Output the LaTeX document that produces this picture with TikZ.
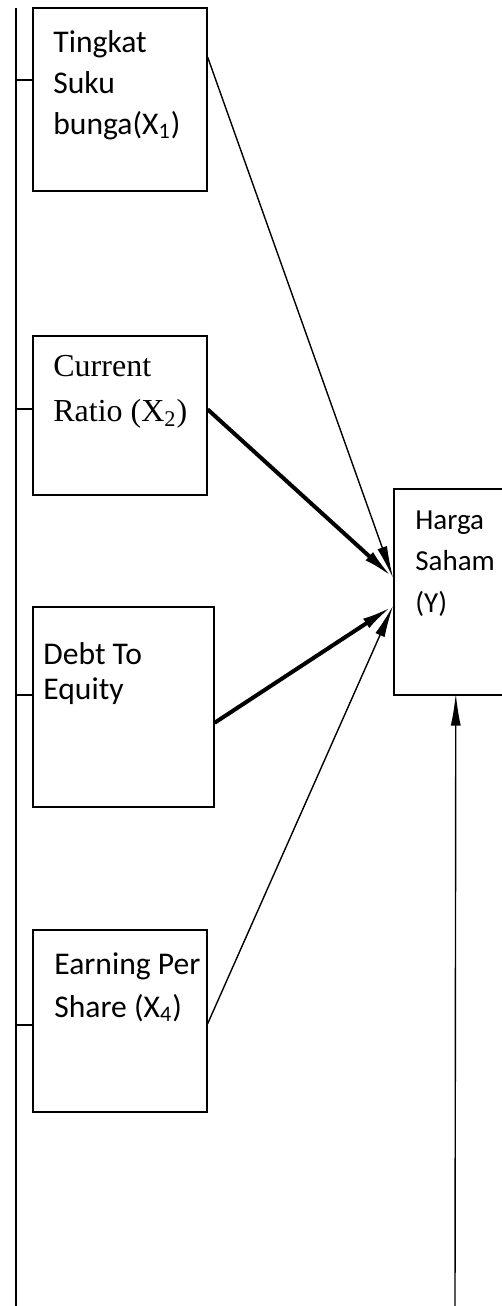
\documentclass[tikz,border=0pt]{standalone}
\usepackage{fontspec}
\setmainfont{Carlito}
\newfontfamily\timesfont{Liberation Serif}
\usepackage{tikz}
\usetikzlibrary{arrows.meta}
\usetikzlibrary{calc}

\begin{document}
\begin{tikzpicture}[x=0.5pt, y=-0.5pt,
        box_style/.style={draw=black, line width=0.8pt, rectangle, inner sep=0pt, anchor=north west},
        text_style/.style={anchor=north west, inner sep=0pt, align=left, font=\fontsize{15.8}{20.5}\selectfont},
        times_style/.style={anchor=north west, inner sep=0pt, align=left, font=\timesfont\fontsize{16}{22.5}\selectfont},
        line_style/.style={draw=black, line width=0.7pt},
        edge_style/.style={draw=black, line width=0.7pt, -{Latex[length=16pt,width=5pt]}},
        thick_edge_style/.style={draw=black, line width=2pt, -{Latex[length=16pt,width=5.5pt]}}]

        \useasboundingbox (0,0) rectangle (502,1306);

        \node [box_style, minimum width=87pt, minimum height=91.5pt] (x1) at (32,7) {};

        \node [box_style, minimum width=87pt, minimum height=79.5pt] (x2) at (32,335) {};

        \node [box_style, minimum width=90.5pt, minimum height=100pt] (x3) at (32,606) {};

        \node [box_style, minimum width=87pt, minimum height=91pt] (x4) at (32,929) {};

        \node [box_style, minimum width=62pt, minimum height=103pt] (y) at (393,488) {};

        \node [text_style] (t1) at ([xshift=10.5pt, yshift=-11.5pt]x1.north west) {Tingkat\\Suku\\bunga(X\textsubscript{1})};

        \node [times_style] (t2) at ([xshift=10.5pt, yshift=-10pt]x2.north west) {Current\\Ratio (X\textsubscript{2})};

        \node [text_style, font=\fontsize{15.8}{17.5}\selectfont] (t3) at ([xshift=5.5pt, yshift=-18pt]x3.north west) {Debt To\\Equity};

        \node [text_style, font=\fontsize{15.8}{21.5}\selectfont] (t4) at ([xshift=11pt, yshift=-11.5pt]x4.north west) {Earning Per\\Share (X\textsubscript{4})};

        \node [text_style, font=\fontsize{14.5}{20.8}\selectfont] (ty) at ([xshift=11pt, yshift=-11pt]y.north west) {Harga\\Saham\\(Y)};

        \coordinate (ltop) at (16,8);
        \coordinate (lbot) at (16,1306);
        \coordinate (ebot) at (455,1306);

        \draw [line_style] (ltop) -- (lbot);

        \draw [line_style] (16,80) -- (x1.west |- 16,80);

        \draw [line_style] (16,409) -- (x2.west |- 16,409);

        \draw [line_style] (16,695) -- (x3.west |- 16,695);

        \draw [line_style] (16,1025) -- (x4.west |- 16,1025);

        \draw [edge_style] ([yshift=-25pt]x1.north east) -- ([yshift=7pt]y.west);

        \draw [thick_edge_style] ([yshift=3pt]x2.east) -- ([yshift=7pt]y.west);

        \draw [thick_edge_style] ([yshift=-8pt]x3.east) -- ([yshift=-7pt]y.west);

        \draw [edge_style] ([yshift=-1.5pt]x4.east) -- ([yshift=-7pt]y.west);

        \draw [edge_style, shorten >=-1pt] (ebot) -- (y.south);

        \end{tikzpicture}
\end{document}
